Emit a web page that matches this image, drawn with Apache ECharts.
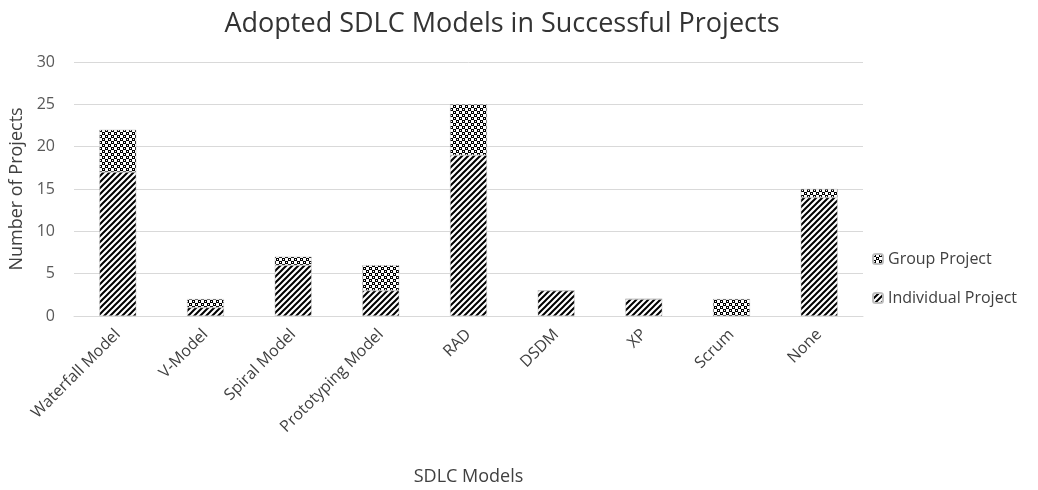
<!DOCTYPE html>
<html>
<head>
<meta charset="utf-8">
<script src="https://cdn.jsdelivr.net/npm/echarts@6/dist/echarts.min.js"></script>
<style>
  html, body { margin: 0; padding: 0; background: #fff; }
  #chart { width: 1038px; height: 490px; }
</style>
</head>
<body>
<div id="chart"></div>
<script>
// data
var categories = ['Waterfall Model', 'V-Model', 'Spiral Model', 'Prototyping Model', 'RAD', 'DSDM', 'XP', 'Scrum', 'None']
var individualProject = [17, 1, 6, 3, 19, 3, 2, 0, 14]
var groupProject = [5, 1, 1, 3, 6, 0, 0, 2, 1]
var yTicks = [0, 5, 10, 15, 20, 25, 30]

// hatch patterns like the office chart fills
function diagonalPattern() {
  var c = document.createElement('canvas')
  c.width = 6
  c.height = 6
  var ctx = c.getContext('2d')
  ctx.fillStyle = '#fff'
  ctx.fillRect(0, 0, 6, 6)
  ctx.strokeStyle = '#000'
  ctx.lineWidth = 2
  ctx.beginPath()
  ctx.moveTo(-1, 7); ctx.lineTo(7, -1)
  ctx.moveTo(-4, 4); ctx.lineTo(4, -4)
  ctx.moveTo(2, 10); ctx.lineTo(10, 2)
  ctx.stroke()
  return c
}

function checkerPattern() {
  var c = document.createElement('canvas')
  c.width = 6
  c.height = 6
  var ctx = c.getContext('2d')
  ctx.fillStyle = '#fff'
  ctx.fillRect(0, 0, 6, 6)
  ctx.fillStyle = '#000'
  ctx.fillRect(0, 0, 3, 3)
  ctx.fillRect(3, 3, 3, 3)
  ctx.fillStyle = '#fff'
  ctx.fillRect(1, 1, 1, 1)
  ctx.fillRect(4, 4, 1, 1)
  return c
}

var diagFill = { image: diagonalPattern(), repeat: 'repeat' }
var checkFill = { image: checkerPattern(), repeat: 'repeat' }

var chart = echarts.init(document.getElementById('chart'))
chart.setOption({
  animation: false,
  textStyle: { fontFamily: 'Open Sans' },
  title: {
    text: 'Adopted SDLC Models in Successful Projects',
    left: 497,
    textAlign: 'center',
    top: 6,
    textStyle: {
      fontSize: 27,
      fontWeight: 'normal',
      color: '#333',
      fontFamily: 'Open Sans'
    }
  },
  grid: {
    left: 74,
    right: 175,
    top: 62,
    bottom: 174,
    outerBoundsMode: 'none'
  },
  legend: {
    orient: 'vertical',
    left: 867,
    top: 246,
    itemGap: 23,
    itemWidth: 10,
    itemHeight: 10,
    selectedMode: false,
    data: ['Group Project', 'Individual Project'],
    textStyle: { fontSize: 16, color: '#404040', padding: [0, 0, 0, 0] }
  },
  xAxis: {
    type: 'category',
    data: categories,
    name: 'SDLC Models',
    nameLocation: 'middle',
    nameGap: 152,
    nameTextStyle: { fontSize: 18, color: '#404040' },
    axisTick: { show: false },
    axisLine: { lineStyle: { color: '#d9d9d9', width: 1 } },
    axisLabel: {
      interval: 0,
      rotate: 45,
      fontSize: 16,
      color: '#404040',
      margin: 16
    }
  },
  yAxis: {
    type: 'value',
    min: 0,
    max: 30,
    interval: 5,
    name: 'Number of Projects',
    nameLocation: 'middle',
    nameGap: 47,
    nameTextStyle: { fontSize: 18, color: '#404040' },
    axisLine: { show: false },
    axisTick: { show: false },
    axisLabel: {
      fontSize: 16,
      color: '#595959',
      margin: 19,
      formatter: function (v) { return yTicks.indexOf(v) >= 0 ? v : '' }
    },
    splitLine: { lineStyle: { color: '#d9d9d9', width: 1 } }
  },
  series: [
    {
      name: 'Individual Project',
      type: 'bar',
      stack: 'total',
      barWidth: '42%',
      data: individualProject,
      itemStyle: { color: diagFill, borderColor: '#bfbfbf', borderWidth: 0.5 }
    },
    {
      name: 'Group Project',
      type: 'bar',
      stack: 'total',
      barWidth: '42%',
      data: groupProject,
      itemStyle: { color: checkFill, borderColor: '#bfbfbf', borderWidth: 0.5 }
    }
  ]
})
</script>
</body>
</html>
